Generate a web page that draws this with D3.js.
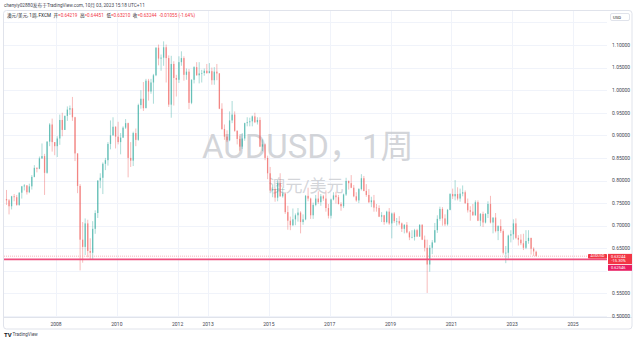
<!DOCTYPE html>
<html lang="zh">
<head>
<meta charset="UTF-8">
<title>AUDUSD, 1周</title>
<script src="https://cdnjs.cloudflare.com/ajax/libs/d3/7.8.5/d3.min.js"></script>
<style>
    body { margin: 0; background: #fff; overflow: hidden; }
    svg { display: block; font-family: Roboto, "Noto Sans CJK SC", sans-serif; }
    .grid line { stroke: #f0f3fa; stroke-width: 1; }
    .axis text { fill: #434651; font-size: 5px; }
</style>
</head>
<body>
<svg id="chart" width="636" height="343"></svg>
<script>
// AUDUSD monthly candles, May 2006 .. Oct 2023
const firstMonth = new Date(2006, 4, 1);

const opens = [
    .7590,.7560,.7430,.7650,.7630,.7460,.7730,.7870,
    .7890,.7740,.7870,.8080,.8280,.8260,.8490,.8540,.8170,.8860,.9240,.8850,
    .8760,.8930,.9340,.9120,.9430,.9570,.9600,.9400,.8600,.7880,.6690,.6530,
    .7050,.6440,.6400,.6930,.7280,.8000,.8060,.8370,.8450,.8810,.9000,.9190,
    .8970,.8850,.8950,.9170,.9270,.8500,.8440,.9050,.8900,.9670,.9810,.9600,
    1.0210,.9970,1.0170,1.0330,1.0940,1.0700,1.0720,1.0950,1.0710,.9680,1.0580,1.0270,
    1.0230,1.0620,1.0710,1.0340,1.0410,.9720,1.0230,1.0510,1.0330,1.0370,1.0380,1.0430,
    1.0380,1.0420,1.0220,1.0410,1.0370,.9590,.9140,.8970,.8890,.9330,.9460,.9100,
    .8920,.8750,.8930,.9270,.9290,.9310,.9420,.9290,.9340,.8750,.8800,.8500,
    .8160,.7780,.7810,.7620,.7940,.7650,.7710,.7300,.7110,.7010,.7140,.7230,
    .7290,.7080,.7140,.7660,.7600,.7230,.7460,.7600,.7520,.7650,.7600,.7390,
    .7220,.7580,.7670,.7630,.7480,.7430,.7690,.7990,.7940,.7840,.7650,.7560,
    .7810,.8050,.7770,.7680,.7520,.7560,.7400,.7390,.7200,.7230,.7080,.7310,
    .7050,.7270,.7100,.7100,.7050,.6930,.7020,.6850,.6740,.6750,.6900,.6760,
    .7020,.6690,.6510,.6140,.6510,.6630,.6900,.7150,.7370,.7160,.7030,.7350,
    .7700,.7650,.7700,.7600,.7710,.7740,.7500,.7340,.7310,.7230,.7520,.7110,
    .7260,.7070,.7260,.7480,.7070,.7180,.6880,.6990,.6880,.6400,.6400,.6780,
    .6810,.7050,.6730,.6690,.6610,.6510,.6660,.6730,.6490,.6422
];
const highs = [
    .7790,.7590,.7660,.7700,.7680,.7740,.7880,.7920,
    .7900,.7930,.8120,.8340,.8290,.8530,.8820,.8590,.8870,.9270,.9370,.8850,
    .8980,.9460,.9500,.9440,.9640,.9660,.9850,.9410,.8600,.7920,.7080,.7160,
    .7130,.6720,.7100,.7340,.8000,.8160,.8400,.8500,.8850,.9330,.9400,.9200,
    .9300,.9050,.9200,.9360,.9280,.8850,.9080,.9150,.9700,1.0000,1.0180,1.0250,
    1.0250,1.0250,1.0360,1.0950,1.1010,1.0790,1.1080,1.1010,1.0770,1.0760,1.0640,1.0340,
    1.0750,1.0860,1.0750,1.0480,1.0470,1.0240,1.0530,1.0620,1.0620,1.0450,1.0480,1.0580,
    1.0600,1.0500,1.0510,1.0580,1.0380,.9710,.9240,.9110,.9530,.9760,.9530,.9110,
    .8990,.9050,.9280,.9400,.9390,.9440,.9500,.9400,.9400,.8910,.8820,.8550,
    .8300,.7910,.7840,.8010,.8160,.7840,.7740,.7440,.7200,.7380,.7270,.7390,
    .7320,.7250,.7680,.7840,.7620,.7510,.7680,.7760,.7700,.7680,.7780,.7480,
    .7600,.7740,.7750,.7680,.7520,.7710,.8060,.8000,.8120,.7900,.7740,.7830,
    .8140,.8100,.7920,.7810,.7640,.7680,.7480,.7450,.7300,.7240,.7330,.7390,
    .7290,.7300,.7170,.7210,.7070,.7030,.7080,.6880,.6900,.6930,.6930,.7030,
    .7030,.6780,.6690,.6570,.6680,.7060,.7230,.7420,.7410,.7250,.7370,.7720,
    .7820,.8010,.7850,.7820,.7890,.7780,.7600,.7430,.7480,.7560,.7560,.7280,
    .7310,.7280,.7540,.7660,.7180,.7280,.7010,.7140,.6920,.6550,.6800,.6900,
    .7140,.7160,.6790,.6810,.6820,.6900,.6900,.6730,.6520,.6445
];
const lows = [
    .7460,.7250,.7360,.7540,.7440,.7440,.7600,.7780,
    .7690,.7720,.7800,.8070,.8180,.8250,.8480,.7680,.8150,.8760,.8640,.8560,
    .8520,.8790,.8980,.9120,.9320,.9450,.9320,.8430,.7720,.6010,.6180,.6350,
    .6300,.6250,.6260,.6820,.7170,.7830,.7700,.8230,.8330,.8690,.8990,.8710,
    .8800,.8580,.8940,.9140,.8070,.8300,.8320,.8760,.8880,.9590,.9540,.9610,
    .9770,.9920,.9700,1.0310,1.0550,1.0430,1.0540,1.0170,.9630,.9390,.9660,.9860,
    1.0160,1.0540,1.0210,1.0230,.9580,.9690,1.0150,1.0320,1.0150,1.0170,1.0320,1.0360,
    1.0370,1.0120,1.0120,1.0220,.9580,.9120,.8900,.8850,.8870,.9270,.9080,.8800,
    .8660,.8700,.8880,.9200,.9200,.9200,.9270,.9240,.8740,.8650,.8450,.8030,
    .7760,.7630,.7530,.7540,.7640,.7620,.7260,.6910,.6900,.6990,.7010,.7090,
    .6830,.7020,.7120,.7540,.7150,.7150,.7430,.7480,.7440,.7550,.7310,.7160,
    .7160,.7560,.7490,.7470,.7330,.7390,.7660,.7800,.7830,.7630,.7530,.7500,
    .7780,.7760,.7640,.7500,.7410,.7310,.7310,.7190,.7080,.7020,.7050,.7020,
    .6720,.7060,.7000,.7010,.6860,.6830,.6830,.6680,.6720,.6670,.6750,.6750,
    .6680,.6430,.5510,.5980,.6370,.6620,.6840,.7110,.7000,.6990,.7000,.7340,
    .7590,.7560,.7560,.7530,.7650,.7480,.7290,.7110,.7220,.7220,.7100,.6990,
    .6970,.7050,.7170,.7050,.6830,.6850,.6680,.6840,.6360,.6170,.6270,.6630,
    .6690,.6700,.6560,.6570,.6460,.6480,.6600,.6360,.6330,.6321
];
const closes = [
    .7560,.7430,.7650,.7630,.7460,.7730,.7870,.7890,
    .7740,.7870,.8080,.8280,.8260,.8490,.8540,.8170,.8860,.9240,.8850,.8760,
    .8930,.9340,.9120,.9430,.9570,.9600,.9400,.8600,.7880,.6690,.6530,.7050,
    .6440,.6400,.6930,.7280,.8000,.8060,.8370,.8450,.8810,.9000,.9190,.8970,
    .8850,.8950,.9170,.9270,.8500,.8440,.9050,.8900,.9670,.9810,.9600,1.0210,
    .9970,1.0170,1.0330,1.0940,1.0700,1.0720,1.0950,1.0710,.9680,1.0580,1.0270,1.0230,
    1.0620,1.0710,1.0340,1.0410,.9720,1.0230,1.0510,1.0330,1.0370,1.0380,1.0430,1.0380,
    1.0420,1.0220,1.0410,1.0370,.9590,.9140,.8970,.8890,.9330,.9460,.9100,.8920,
    .8750,.8930,.9270,.9290,.9310,.9420,.9290,.9340,.8750,.8800,.8500,.8160,
    .7780,.7810,.7620,.7940,.7650,.7710,.7300,.7110,.7010,.7140,.7230,.7290,
    .7080,.7140,.7660,.7600,.7230,.7460,.7600,.7520,.7650,.7600,.7390,.7220,
    .7580,.7670,.7630,.7480,.7430,.7690,.7990,.7940,.7840,.7650,.7560,.7810,
    .8050,.7770,.7680,.7520,.7560,.7400,.7390,.7200,.7230,.7080,.7310,.7050,
    .7270,.7100,.7100,.7050,.6930,.7020,.6850,.6740,.6750,.6900,.6760,.7020,
    .6690,.6510,.6140,.6510,.6630,.6900,.7150,.7370,.7160,.7030,.7350,.7700,
    .7650,.7700,.7600,.7710,.7740,.7500,.7340,.7310,.7230,.7520,.7110,.7260,
    .7070,.7260,.7480,.7070,.7180,.6880,.6990,.6880,.6400,.6400,.6780,.6810,
    .7050,.6730,.6690,.6610,.6510,.6660,.6730,.6490,.6430,.63244
];

const priceTicks = [0.5, 0.55, 0.6, 0.65, 0.7, 0.75, 0.8, 0.85, 0.9, 0.95, 1.0, 1.05, 1.1];
const gridPrices = [0.5, 0.55, 0.6, 0.65, 0.7, 0.75, 0.8, 0.85, 0.9, 0.95, 1.0, 1.05, 1.1, 1.15];
const yearTicks = [2008, 2010, 2012, 2013, 2015, 2017, 2019, 2021, 2023, 2025];

const lastBar = { open: 0.64219, high: 0.64451, low: 0.63210, close: 0.63244, change: -0.01055, pct: -1.64 };
const levelPrice = 0.62546;
const levelPct = "-15.30%";

const upColor = "#26a69a", downColor = "#ef5350";
const plot = { left: 4, right: 607, top: 10, bottom: 317 };

const svg = d3.select("#chart");

const x = d3.scaleTime()
    .domain([new Date(2008, 0, 1), new Date(2025, 0, 1)])
    .range([56, 573]);
const y = d3.scaleLinear()
    .domain([0.5, 1.1])
    .range([316, 45]);

const months = d3.timeMonth.range(firstMonth, new Date(2023, 10, 1));
const bars = months.map((d, i) => ({
    date: d,
    mid: new Date(d.getTime() + (d3.timeMonth.offset(d, 1) - d) / 2),
    o: opens[i], h: highs[i], l: lows[i], c: closes[i]
}));

// frame
svg.append("rect")
    .attr("x", 3.5).attr("y", 10.5).attr("width", 628.5).attr("height", 318.5)
    .attr("rx", 3).attr("fill", "#fff").attr("stroke", "#e0e3eb");

// grid
const grid = svg.append("g").attr("class", "grid");
grid.selectAll(".gy").data(gridPrices).join("line")
    .attr("x1", plot.left).attr("x2", plot.right)
    .attr("y1", d => Math.round(y(d)) + 0.5).attr("y2", d => Math.round(y(d)) + 0.5);
grid.selectAll(".gx").data(yearTicks).join("line")
    .attr("y1", 11).attr("y2", plot.bottom)
    .attr("x1", d => Math.round(x(new Date(d, 0, 1))) + 0.5)
    .attr("x2", d => Math.round(x(new Date(d, 0, 1))) + 0.5);

// watermark
const wm = svg.append("g").attr("fill", "#c5c7cd").attr("fill-opacity", 0.75);
wm.append("text").attr("x", 202).attr("y", 158)
    .attr("font-size", 33).text("AUDUSD，1周");
wm.append("text").attr("x", 306).attr("y", 192).attr("text-anchor", "middle")
    .attr("font-size", 17).text("澳元/美元");

// candles
svg.append("clipPath").attr("id", "clip").append("rect")
    .attr("x", plot.left).attr("y", plot.top).attr("width", plot.right - plot.left).attr("height", plot.bottom - plot.top);
const cg = svg.append("g").attr("clip-path", "url(#clip)");
const bw = 1.25;

const candle = cg.selectAll(".c").data(bars).join("g")
    .attr("fill", d => d.c >= d.o ? upColor : downColor)
    .attr("stroke", d => d.c >= d.o ? upColor : downColor)
    .attr("opacity", 0.7);
candle.append("line")
    .attr("x1", d => x(d.mid)).attr("x2", d => x(d.mid))
    .attr("y1", d => y(d.h)).attr("y2", d => y(d.l))
    .attr("stroke-width", 0.55);
candle.append("rect")
    .attr("stroke", "none")
    .attr("x", d => x(d.mid) - bw / 2).attr("width", bw)
    .attr("y", d => y(Math.max(d.o, d.c)))
    .attr("height", d => Math.max(0.6, Math.abs(y(d.o) - y(d.c))));

// close (dotted) and level line
svg.append("line")
    .attr("x1", plot.left).attr("x2", plot.right)
    .attr("y1", y(lastBar.close)).attr("y2", y(lastBar.close))
    .attr("stroke", "#f7a1a8").attr("stroke-width", 0.8).attr("stroke-dasharray", "1,1");
svg.append("line")
    .attr("x1", plot.left).attr("x2", plot.right)
    .attr("y1", y(levelPrice)).attr("y2", y(levelPrice))
    .attr("stroke", "#ee4f7e").attr("stroke-width", 1.6);

// time axis separator
svg.append("line").attr("x1", 4).attr("x2", 632)
    .attr("y1", plot.bottom + 0.5).attr("y2", plot.bottom + 0.5).attr("stroke", "#e0e3eb");

// price tags occupy this band on the price scale; labels there are hidden
const yc = y(lastBar.close);
const tagTop = yc - 4, tagBottom = yc + 17;

// price axis labels
const ya = svg.append("g").attr("class", "axis");
ya.selectAll("text").data(priceTicks.filter(d => y(d) < tagTop || y(d) > tagBottom)).join("text")
    .attr("x", 612).attr("y", d => y(d) + 1.8)
    .text(d => d.toFixed(5));

// time axis labels
const xa = svg.append("g").attr("class", "axis");
xa.selectAll("text").data(yearTicks).join("text")
    .attr("x", d => x(new Date(d, 0, 1))).attr("y", 326)
    .attr("text-anchor", "middle")
    .text(d => d);

// last price tags
svg.append("rect").attr("x", 588).attr("y", yc - 2.3).attr("width", 19).attr("height", 4.6)
    .attr("rx", 0.8).attr("fill", "#f23645");
svg.append("text").attr("x", 597.5).attr("y", yc + 1.3).attr("text-anchor", "middle")
    .attr("font-size", 3.6).attr("fill", "#fff").text("AUDUSD");
svg.append("rect").attr("x", 608).attr("y", yc - 2.3).attr("width", 24).attr("height", 10.3)
    .attr("fill", "#f23645");
svg.append("text").attr("x", 611).attr("y", yc + 1.4)
    .attr("font-size", 4).attr("fill", "#fff").text(lastBar.close.toFixed(5));
svg.append("text").attr("x", 611.5).attr("y", yc + 6.2)
    .attr("font-size", 4).attr("fill", "#fff").text(levelPct);
svg.append("rect").attr("x", 608).attr("y", yc + 8.8).attr("width", 24).attr("height", 5.8)
    .attr("fill", "#e91e63");
svg.append("text").attr("x", 611).attr("y", yc + 13.2)
    .attr("font-size", 4).attr("fill", "#fff").text(levelPrice.toFixed(5));

// USD currency box
svg.append("rect").attr("x", 610.5).attr("y", 13.5).attr("width", 19).attr("height", 7)
    .attr("rx", 1.5).attr("fill", "#fff").attr("stroke", "#e0e3eb");
svg.append("text").attr("x", 613).attr("y", 18.6).attr("font-size", 4.2)
    .attr("fill", "#131722").text("USD");

// header
svg.append("text").attr("x", 4).attr("y", 7).attr("font-size", 4.7).attr("fill", "#434651")
    .text("chenyiy02880发布于TradingView.com, 10月 03, 2023 15:18 UTC+11");

// legend: flows left to right with small gaps
const red = "#f23645";
const legend = svg.append("text").attr("x", 7).attr("y", 17.2)
    .attr("font-size", 4.6).attr("fill", "#131722");
legend.append("tspan").text("澳元/美元, 1周, FXCM");
[["开", lastBar.open], ["高", lastBar.high], ["低", lastBar.low], ["收", lastBar.close]]
    .forEach(([k, v]) => {
        legend.append("tspan").attr("dx", 2.6).text(k);
        legend.append("tspan").attr("fill", red).text("=" + v.toFixed(5));
    });
legend.append("tspan").attr("dx", 2.6).attr("fill", red)
    .text(lastBar.change.toFixed(5) + " (" + lastBar.pct.toFixed(2) + "%)");

// TradingView logo
const logo = svg.append("g").attr("transform", "translate(4,332)");
logo.append("text").attr("x", 0).attr("y", 4.5).attr("font-size", 6).attr("font-weight", "bold")
    .attr("fill", "#131722").text("TV");
logo.append("text").attr("x", 8.5).attr("y", 4.3).attr("font-size", 4.6)
    .attr("fill", "#434651").text("TradingView");
</script>
</body>
</html>
